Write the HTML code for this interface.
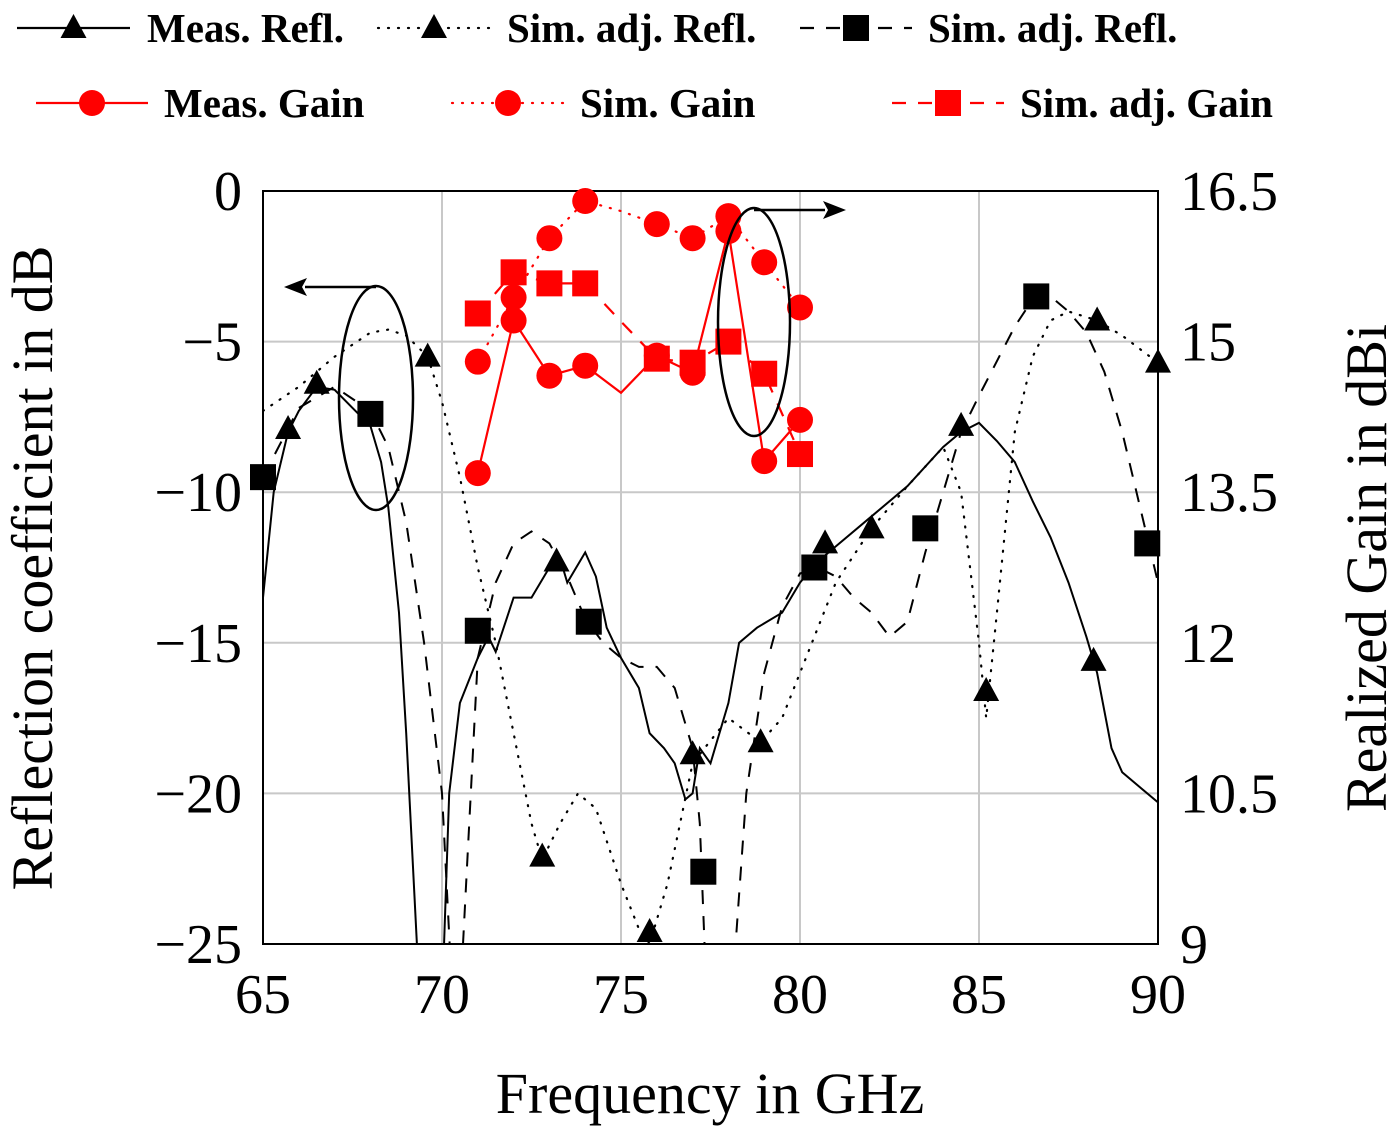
<!DOCTYPE html>
<html><head><meta charset="utf-8"><style>
body{margin:0;background:#fff;}
svg{display:block;font-family:"Liberation Serif",serif;}
</style></head><body>
<svg id="chart" width="1400" height="1136" viewBox="0 0 1400 1136" xmlns="http://www.w3.org/2000/svg"></svg>
<script>
const xTicks=[65,70,75,80,85,90];
const yTicks=[0,-5,-10,-15,-20,-25];
const yTickLabels=["0","\u22125","\u221210","\u221215","\u221220","\u221225"];
const y2Ticks=[16.5,15,13.5,12,10.5,9];
const y2TickLabels=["16.5","15","13.5","12","10.5","9"];
const measReflF=[65,65.3,65.7,66,66.5,67,67.5,68,68.3,68.5,68.8,69,69.3,69.6,70,70.2,70.5,71,71.3,71.5,72,72.5,73,73.3,73.5,74,74.3,74.6,75,75.5,75.8,76.2,76.5,76.8,77,77.2,77.5,78,78.3,78.8,79.5,80,80.5,81,82,83,84,84.5,85,85.5,86,86.5,87,87.5,88,88.3,88.7,89,89.5,90];
const measReflV=[-13.5,-10,-8,-7.3,-6.5,-6.6,-7.2,-7.8,-9,-10.5,-14,-18,-25,-27,-27,-20,-17,-15.5,-14.8,-15.3,-13.5,-13.5,-12.5,-12.2,-13,-12,-12.8,-14.5,-15.5,-16.5,-18,-18.5,-19,-20.2,-20,-18.5,-19,-17,-15,-14.5,-14,-13,-12.3,-11.8,-10.8,-9.8,-8.5,-8,-7.7,-8.3,-9,-10.3,-11.5,-13,-14.8,-16,-18.5,-19.3,-19.8,-20.3];
const measReflMkF=[65.7,66.5,73.2,77,80.7,84.5,88.2];
const measReflMkV=[-7.9,-6.4,-12.3,-18.7,-11.7,-7.8,-15.6];
const simReflF=[65,66,67,68,68.5,69,69.6,70,70.5,71,71.5,72,72.5,72.8,73.3,73.8,74.3,75,75.5,75.8,76.3,77,78,78.9,79.5,80,81,82,83,84,84.5,85,85.2,85.5,86,86.5,87,87.5,88.3,89,90];
const simReflV=[-7.3,-6.5,-5.5,-4.7,-4.6,-4.8,-5.5,-7,-9.5,-12.5,-15,-18,-21,-22.2,-21,-20,-20.5,-23,-24.5,-25,-23,-19,-17.5,-18.3,-17.5,-16,-13,-11.2,-9.8,-8.5,-10,-15,-17.5,-14,-8,-5.5,-4.3,-4,-4.3,-4.8,-5.7];
const simReflMkF=[69.6,72.8,75.8,78.9,82,85.2,88.3,90];
const simReflMkV=[-5.5,-22.1,-24.6,-18.3,-11.2,-16.6,-4.3,-5.7];
const adjReflF=[65,66,67,68,68.5,69,69.5,70,70.3,70.5,71,71.5,72,72.5,73,73.5,74,74.5,75,75.5,76,76.5,77,77.2,77.4,78,78.2,78.5,79,79.5,80,80.5,81,81.5,82,82.5,83,83.5,84,84.5,85,86,86.5,87,87.5,88,88.5,89,89.5,90];
const adjReflV=[-9.5,-7.2,-6.5,-7.3,-8.5,-11,-15,-20,-27,-27,-15.5,-13,-11.7,-11.3,-11.7,-12.8,-14.2,-15,-15.5,-15.8,-15.8,-16.5,-18.5,-21,-27,-27,-25,-20,-16,-13.8,-12.7,-12.5,-12.8,-13.5,-14,-14.8,-14.3,-12,-10,-8,-6.8,-4.5,-3.6,-3.5,-4,-4.7,-6,-8,-10.5,-13];
const adjReflMkF=[65,68,71,74.1,77.3,80.4,83.5,86.6,89.7];
const adjReflMkV=[-9.5,-7.4,-14.6,-14.3,-22.6,-12.5,-11.2,-3.5,-11.7];
const gainF=[71,72,73,74,75,76,77,78,79,80];
const measGain=[13.69,15.21,14.66,14.76,14.49,14.86,14.69,16.1,13.81,14.22];
const simGain=[14.80,15.44,16.03,16.40,16.3,16.17,16.03,16.25,15.79,15.34];
const adjGain=[15.28,15.69,15.58,15.58,15.2,14.83,14.79,15.0,14.68,13.88];

const X0=263,X1=1158,YT=191,YB=944;
const sx=f=>X0+(f-65)/25*(X1-X0);
const sy=v=>YT+(0-v)/25*(YB-YT);
const sy2=v=>YT+(16.5-v)/7.5*(YB-YT);
const NS="http://www.w3.org/2000/svg";
const svg=document.getElementById('chart');
function mk(t,a,p){const e=document.createElementNS(NS,t);for(const k in a)e.setAttribute(k,a[k]);(p||svg).appendChild(e);return e;}

const defs=mk('defs',{});
const cp=mk('clipPath',{id:'clip'},defs);mk('rect',{x:X0,y:YT,width:X1-X0,height:YB-YT},cp);

xTicks.forEach(t=>{const l=mk('line',{x1:sx(t),x2:sx(t),y1:YT,y2:YB,stroke:'#c8c8c8','stroke-width':2});

});
yTicks.forEach(t=>{const l=mk('line',{x1:X0,x2:X1,y1:sy(t),y2:sy(t),stroke:'#c8c8c8','stroke-width':2});

});
const frame=mk('rect',{x:X0,y:YT,width:X1-X0,height:YB-YT,fill:'none',stroke:'#000','stroke-width':2});



xTicks.forEach(t=>{const e=mk('text',{x:sx(t),y:1013,'font-size':56,'text-anchor':'middle'});e.textContent=t;

});
yTicks.forEach((t,i)=>{const e=mk('text',{x:242,y:sy(t)+19,'font-size':56,'text-anchor':'end'});e.textContent=yTickLabels[i];

});
y2Ticks.forEach((t,i)=>{const e=mk('text',{x:1180,y:sy2(t)+19,'font-size':56});e.textContent=y2TickLabels[i];

});

let e=mk('text',{x:710,y:1113,'font-size':58,'text-anchor':'middle'});e.textContent='Frequency in GHz';


e=mk('text',{x:0,y:0,'font-size':58,'text-anchor':'middle',transform:'translate(52,568) rotate(-90)'});e.textContent='Reflection coefficient in dB';


e=mk('text',{x:0,y:0,'font-size':58,'text-anchor':'middle',transform:'translate(1386,568) rotate(-90)'});e.textContent='Realized Gain in dBi';



const g=mk('g',{'clip-path':'url(#clip)'});
function line(F,V,ys,style,name){
  const d=F.map((f,i)=>(i?'L':'M')+sx(f).toFixed(1)+','+ys(V[i]).toFixed(1)).join('');
  const p=mk('path',Object.assign({d:d,fill:'none'},style),g);
  
  
}
function tri(x,y,c,par){return mk('polygon',{points:`${x},${y-14} ${x-13},${y+10} ${x+13},${y+10}`,fill:c},par||svg);}
function sq(x,y,c,par){return mk('rect',{x:x-13,y:y-13,width:26,height:26,fill:c},par||svg);}
function circ(x,y,c,par){return mk('circle',{cx:x,cy:y,r:13,fill:c},par||svg);}

line(measReflF,measReflV,sy,{stroke:'#000','stroke-width':2},'meas-refl-line');
line(simReflF,simReflV,sy,{stroke:'#000','stroke-width':2.2,'stroke-dasharray':'1 9','stroke-linecap':'round'},'sim-refl-line');
line(adjReflF,adjReflV,sy,{stroke:'#000','stroke-width':2,'stroke-dasharray':'14 12'},'sim-adj-refl-line');
line(gainF,measGain,sy2,{stroke:'#f00','stroke-width':2.2},'meas-gain-line');
line(gainF,simGain,sy2,{stroke:'#f00','stroke-width':2.2,'stroke-dasharray':'1 9','stroke-linecap':'round'},'sim-gain-line');
line(gainF,adjGain,sy2,{stroke:'#f00','stroke-width':2.2,'stroke-dasharray':'14 12'},'sim-adj-gain-line');

measReflMkF.forEach((f,i)=>{const m=tri(sx(f),sy(measReflMkV[i]),'#000');

});
simReflMkF.forEach((f,i)=>{const m=tri(sx(f),sy(simReflMkV[i]),'#000');

});
adjReflMkF.forEach((f,i)=>{const m=sq(sx(f),sy(adjReflMkV[i]),'#000');

});
gainF.forEach((f,i)=>{if(f===75)return;
let m=circ(sx(f),sy2(measGain[i]),'#f00');


m=circ(sx(f),sy2(simGain[i]),'#f00');


m=sq(sx(f),sy2(adjGain[i]),'#f00');

});

e=mk('ellipse',{cx:376,cy:398,rx:37,ry:112,fill:'none',stroke:'#000','stroke-width':2.5});


e=mk('path',{d:'M376,287 H305',fill:'none',stroke:'#000','stroke-width':2.5});


mk('polygon',{points:'284,287 307,278 302,287 307,296',fill:'#000'});
e=mk('ellipse',{cx:754,cy:322,rx:36,ry:114,fill:'none',stroke:'#000','stroke-width':2.5});


e=mk('path',{d:'M754,210 H825',fill:'none',stroke:'#000','stroke-width':2.5});


mk('polygon',{points:'846,210 823,201 828,210 823,219',fill:'#000'});

const lg=mk('g',{});


function entry(x0,x1,y,col,dash,marker,label,tx,name){
  const gg=mk('g',{},lg);
  
  
  const a={x1:x0,x2:x1,y1:y,y2:y,stroke:col,'stroke-width':2.2};
  if(dash==='dot'){a['stroke-dasharray']='1 9';a['stroke-linecap']='round';}
  if(dash==='dash'){a['stroke-dasharray']='14 12';}
  mk('line',a,gg);
  const mx=(x0+x1)/2;
  if(marker==='tri')tri(mx,y,col,gg);else if(marker==='sq')sq(mx,y,col,gg);else circ(mx,y,col,gg);
  const t=mk('text',{x:tx,y:y+14,'font-size':41,'font-weight':'bold'},gg);t.textContent=label;
}
entry(17,130,28,'#000','solid','tri','Meas. Refl.',147,'legend-meas-refl');
entry(378,490,28,'#000','dot','tri','Sim. adj. Refl.',507,'legend-sim-refl');
entry(800,912,28,'#000','dash','sq','Sim. adj. Refl.',928,'legend-sim-adj-refl');
entry(36,148,103,'#f00','solid','circ','Meas. Gain',164,'legend-meas-gain');
entry(452,564,103,'#f00','dot','circ','Sim. Gain',580,'legend-sim-gain');
entry(892,1004,103,'#f00','dash','sq','Sim. adj. Gain',1020,'legend-sim-adj-gain');
</script>
</body></html>
